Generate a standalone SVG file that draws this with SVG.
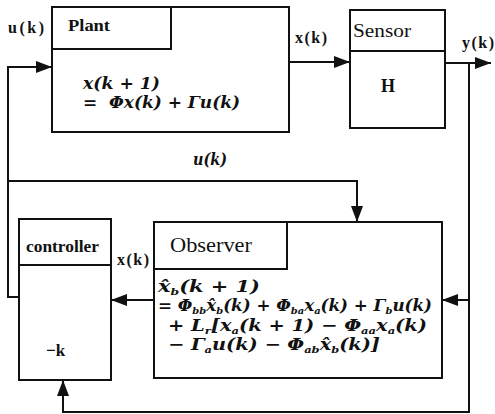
<svg xmlns="http://www.w3.org/2000/svg" width="495" height="414" viewBox="0 0 495 414">
<style>
.box{fill:none;stroke:#111;stroke-width:2}
.ln{fill:none;stroke:#111;stroke-width:2}
.t{font-family:"Liberation Serif","DejaVu Serif",serif;fill:#111}
.b{font-weight:bold}
.m{font-family:"DejaVu Serif","Liberation Serif",serif;font-style:italic;font-weight:bold;fill:#111;font-size:16px}
.s{font-size:9.5px}
</style>
<defs>
<marker id="ah" markerWidth="16" markerHeight="12" refX="16" refY="6" orient="auto" markerUnits="userSpaceOnUse">
<path d="M0,0 L16,6 L0,12 Z" fill="#111"/>
</marker>
</defs>
<rect width="495" height="414" fill="#fff"/>
<g id="plant">
<rect class="box" x="52" y="7" width="237" height="125"/>
<rect class="box" x="52" y="7" width="119" height="42"/>
<text class="t b" x="68" y="31" font-size="17" textLength="42" lengthAdjust="spacingAndGlyphs">Plant</text>
<text class="m" x="83" y="89" textLength="77" lengthAdjust="spacingAndGlyphs">x(k + 1)</text>
<text class="m" x="83" y="108" xml:space="preserve" textLength="157" lengthAdjust="spacingAndGlyphs">=  Φx(k) + Γu(k)</text>
</g>
<g id="sensor">
<rect class="box" x="350" y="10" width="95" height="118"/>
<line class="box" x1="350" y1="51" x2="445" y2="51"/>
<text class="t" x="353" y="37" font-size="18" textLength="58" lengthAdjust="spacingAndGlyphs">Sensor</text>
<text class="t b" x="381" y="92" font-size="18">H</text>
</g>
<g id="controller">
<rect class="box" x="19" y="219" width="92" height="161"/>
<line class="box" x1="19" y1="265" x2="111" y2="265"/>
<text class="t b" x="26" y="252" font-size="16" textLength="73" lengthAdjust="spacingAndGlyphs">controller</text>
<text class="t b" x="46" y="356" font-size="17">−k</text>
</g>
<g id="observer">
<rect class="box" x="154" y="222" width="288" height="156"/>
<rect class="box" x="154" y="222" width="133" height="47"/>
<text class="t" x="170" y="252" font-size="20" textLength="82" lengthAdjust="spacingAndGlyphs">Observer</text>
<text class="m" x="158" y="292" textLength="102" lengthAdjust="spacingAndGlyphs">x̂<tspan class="s" dy="3">b</tspan><tspan dy="-3">(k + 1)</tspan></text>
<text class="m" x="158" y="311" textLength="274" lengthAdjust="spacingAndGlyphs">= Φ<tspan class="s" dy="3">bb</tspan><tspan dy="-3">x̂</tspan><tspan class="s" dy="3">b</tspan><tspan dy="-3">(k) + Φ</tspan><tspan class="s" dy="3">ba</tspan><tspan dy="-3">x</tspan><tspan class="s" dy="3">a</tspan><tspan dy="-3">(k) + Γ</tspan><tspan class="s" dy="3">b</tspan><tspan dy="-3">u(k)</tspan></text>
<text class="m" x="168" y="331" textLength="259" lengthAdjust="spacingAndGlyphs">+ L<tspan class="s" dy="3">r</tspan><tspan dy="-3">[x</tspan><tspan class="s" dy="3">a</tspan><tspan dy="-3">(k + 1) − Φ</tspan><tspan class="s" dy="3">aa</tspan><tspan dy="-3">x</tspan><tspan class="s" dy="3">a</tspan><tspan dy="-3">(k)</tspan></text>
<text class="m" x="168" y="350" textLength="212" lengthAdjust="spacingAndGlyphs">− Γ<tspan class="s" dy="3">a</tspan><tspan dy="-3">u(k) − Φ</tspan><tspan class="s" dy="3">ab</tspan><tspan dy="-3">x̂</tspan><tspan class="s" dy="3">b</tspan><tspan dy="-3">(k)]</tspan></text>
</g>
<g id="connectors">
<polyline class="ln" points="19,297 8,297 8,67 52,67" marker-end="url(#ah)"/>
<polyline class="ln" points="8,181 357,181 357,222" marker-end="url(#ah)"/>
<line class="ln" x1="289" y1="62" x2="350" y2="62" marker-end="url(#ah)"/>
<line class="ln" x1="445" y1="63" x2="491" y2="63" marker-end="url(#ah)"/>
<polyline class="ln" points="469,63 469,412 63,412 63,380" marker-end="url(#ah)"/>
<line class="ln" x1="469" y1="300" x2="442" y2="300" marker-end="url(#ah)"/>
<line class="ln" x1="154" y1="300" x2="111" y2="300" marker-end="url(#ah)"/>
</g>
<g id="labels">
<text class="t b" x="8" y="33" font-size="16" textLength="36">u(k)</text>
<text class="t b" x="295" y="43" font-size="16" textLength="32">x(k)</text>
<text class="t b" x="462" y="48" font-size="16" textLength="32">y(k)</text>
<text class="t b" x="117" y="265" font-size="16" textLength="32">x(k)</text>
<text class="m" x="193" y="165" textLength="34" lengthAdjust="spacingAndGlyphs">u(k)</text>
</g>
</svg>
